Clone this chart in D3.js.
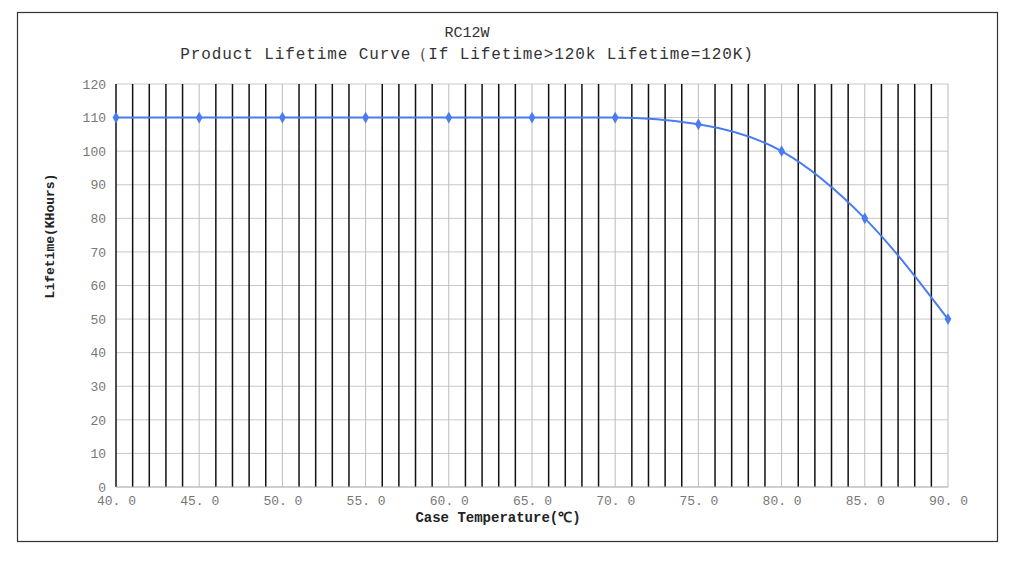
<!DOCTYPE html>
<html><head><meta charset="utf-8">
<script src="https://cdn.jsdelivr.net/npm/d3@7"></script>
<style>body{margin:0;background:#fff}</style>
</head><body><div id="chart"></div>
<script>
const temps = [40, 45, 50, 55, 60, 65, 70, 75, 80, 85, 90];
const lifetime = [110, 110, 110, 110, 110, 110, 110, 108, 100, 80, 50];
const yTicks = d3.range(0, 121, 10);
const xTicks = [40, 45, 50, 55, 60, 65, 70, 75, 80, 85, 90];

const W = 1023, H = 564;
const m = { left: 116, right: 75, top: 84, bottom: 77 };
const font = "'Liberation Mono', 'DejaVu Sans Mono', monospace";

const svg = d3.select("#chart").append("svg").attr("width", W).attr("height", H);
svg.append("rect").attr("x", 17.5).attr("y", 12.5).attr("width", 980).attr("height", 529)
    .attr("fill", "none").attr("stroke", "#333").attr("stroke-width", 1.2);

const x = d3.scaleLinear().domain([40, 90]).range([m.left, W - m.right]);
const y = d3.scaleLinear().domain([0, 120]).range([H - m.bottom, m.top]);

// horizontal grid
svg.append("g").selectAll("line").data(yTicks).join("line")
    .attr("x1", x(40)).attr("x2", x(90))
    .attr("y1", d => y(d)).attr("y2", d => y(d))
    .attr("stroke", "#c8c8c8").attr("stroke-width", 1);

// vertical lines every degree
svg.append("g").selectAll("line").data(d3.range(40, 91, 1)).join("line")
    .attr("x1", d => x(d)).attr("x2", d => x(d))
    .attr("y1", y(0)).attr("y2", y(120))
    .attr("stroke", d => d % 5 === 0 && d !== 40 ? "#bbb" : "#111")
    .attr("stroke-width", d => d % 5 === 0 && d !== 40 ? 1 : 1.5);

svg.append("line").attr("x1", x(40)).attr("x2", x(90)).attr("y1", y(0)).attr("y2", y(0))
    .attr("stroke", "#bbb");

const xAxis = svg.append("g").attr("transform", `translate(0,${y(0)})`)
    .call(d3.axisBottom(x).tickValues(xTicks).tickSize(0).tickPadding(9).tickFormat(d => d.toFixed(1).replace(".", ". ")));
const yAxis = svg.append("g").attr("transform", `translate(${x(40)},0)`)
    .call(d3.axisLeft(y).tickValues(yTicks).tickSize(0).tickPadding(10));
[xAxis, yAxis].forEach(a => {
    a.select(".domain").remove();
    a.selectAll("text").attr("font-family", font).attr("font-size", 13).attr("fill", "#777");
});

const pts = temps.map((t, i) => [t, lifetime[i]]);
svg.append("path").datum(pts)
    .attr("d", d3.line().x(d => x(d[0])).y(d => y(d[1])).curve(d3.curveMonotoneX))
    .attr("fill", "none").attr("stroke", "#4a7cf0").attr("stroke-width", 2);
svg.append("g").selectAll("path").data(pts).join("path")
    .attr("d", d3.symbol(d3.symbolDiamond, 40))
    .attr("transform", d => `translate(${x(d[0])},${y(d[1])})`)
    .attr("fill", "#4a7cf0");

svg.append("text").attr("x", 467).attr("y", 37).attr("text-anchor", "middle")
    .attr("font-family", font).attr("font-size", 15).attr("fill", "#333").text("RC12W");
svg.append("text").attr("x", 467).attr("y", 59).attr("text-anchor", "middle")
    .attr("font-family", font).attr("font-size", 16).attr("letter-spacing", 0.9).attr("fill", "#333")
    .text("Product Lifetime Curve（If Lifetime>120k Lifetime=120K)");
svg.append("text").attr("x", 498).attr("y", 522).attr("text-anchor", "middle")
    .attr("font-family", font).attr("font-size", 14).attr("font-weight", "bold").attr("fill", "#222")
    .text("Case Temperature(℃)");
svg.append("text").attr("transform", "translate(54,236) rotate(-90)").attr("text-anchor", "middle")
    .attr("font-family", font).attr("font-size", 13).attr("font-weight", "bold").attr("fill", "#222")
    .text("Lifetime(KHours)");
</script></body></html>
